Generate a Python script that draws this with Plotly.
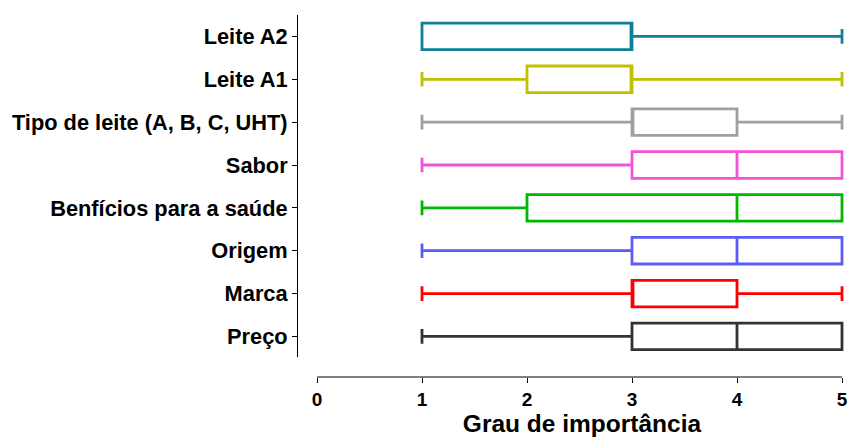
import plotly.graph_objects as go

categories = ["Preço", "Marca", "Origem", "Benfícios para a saúde", "Sabor",
              "Tipo de leite (A, B, C, UHT)", "Leite A1", "Leite A2"]
lower = [1, 1, 1, 1, 1, 1, 1, 1]
q1 = [3, 3, 3, 2, 3, 3, 2, 1]
median = [4, 3, 4, 4, 4, 3, 3, 3]
q3 = [5, 4, 5, 5, 5, 4, 3, 3]
upper = [5, 5, 5, 5, 5, 5, 5, 5]
colors = ["#333333", "#FF0000", "#5B5BF5", "#00B800", "#F552D8",
          "#A0A0A4", "#C0C000", "#0E8099"]
x_ticks = [0, 1, 2, 3, 4, 5]

fig = go.Figure()
for i, cat in enumerate(categories):
    fig.add_trace(go.Box(
        y=[cat], name=cat, orientation="h",
        q1=[q1[i]], median=[median[i]], q3=[q3[i]],
        lowerfence=[lower[i]], upperfence=[upper[i]],
        line=dict(color=colors[i], width=2.8),
        fillcolor="rgba(255,255,255,0)",
        width=0.62, whiskerwidth=0.55, boxpoints=False,
        showlegend=False,
    ))

font_family = "Liberation Sans, Arial, sans-serif"
W, H = 849, 437
L, R, T, B = 297, 2, 15, 60
pw, ph = W - L - R, H - T - B
x_max = 5 + (pw - 20 - 525) / 105.0

fig.update_layout(
    width=W, height=H,
    margin=dict(l=L, r=R, t=T, b=B, autoexpand=False),
    plot_bgcolor="white", paper_bgcolor="white",
    boxmode="overlay",
    font=dict(family=font_family, color="black"),
    xaxis=dict(
        domain=[20 / pw, 1], anchor="free", position=0, automargin=False,
        range=[0, x_max], tickvals=x_ticks, ticks="outside", ticklen=5,
        tickwidth=1, tickcolor="black", showline=False,
        showgrid=False, zeroline=False,
        tickfont=dict(size=19, family=font_family, weight="bold"),
        title=dict(text="<b>Grau de importância</b>", font=dict(size=24.5), standoff=4),
    ),
    yaxis=dict(
        domain=[20 / ph, 1], anchor="free", position=0, automargin=False,
        range=[-0.48, 7.5], categoryorder="array", categoryarray=categories,
        ticks="outside", ticklen=5, tickwidth=1, tickcolor="black",
        showline=True, linecolor="black", linewidth=1, showgrid=False,
        zeroline=False,
        tickfont=dict(size=21.8, family=font_family, weight="bold"),
    ),
    shapes=[dict(type="line", xref="x", yref="paper",
                 x0=x_ticks[0], x1=x_ticks[-1], y0=0, y1=0,
                 line=dict(color="black", width=1))],
)

fig.write_html(
    "out.html",
    config={"displayModeBar": False},
    post_script="document.body.style.margin='0';document.body.style.overflow='hidden';",
)
